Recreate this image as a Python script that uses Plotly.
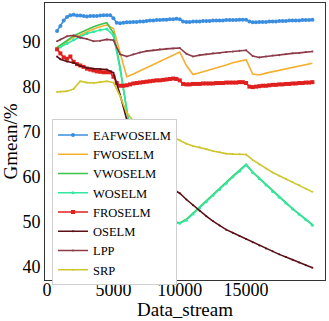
import plotly.graph_objects as go

# Data stream positions (sampling grid)
x_fine = list(range(750, 20001, 250))
x_coarse = [750] + list(range(1000, 20001, 500))

eafwoselm = [92.5,
    93.6, 94.8, 95.6, 96.0,
    96.1, 95.9, 95.9, 95.8,
    95.7, 95.8, 95.8, 95.8,
    95.9, 96.0, 96.0, 96.0,
    95.3, 94.3, 94.2, 94.3,
    94.4, 94.4, 94.5, 94.5,
    94.6, 94.6, 94.7, 94.8,
    94.8, 94.9, 94.9, 95.0,
    95.0, 95.1, 95.1, 95.2,
    95.1, 94.6, 94.5, 94.5,
    94.6, 94.6, 94.6, 94.7,
    94.7, 94.7, 94.8, 94.8,
    94.8, 94.8, 94.9, 94.9,
    94.9, 94.9, 95.0, 95.0,
    95.0, 94.6, 94.4, 94.4,
    94.5, 94.5, 94.5, 94.6,
    94.6, 94.6, 94.7, 94.7,
    94.7, 94.8, 94.8, 94.8,
    94.8, 94.9, 94.9, 94.9,
    95.0]

froselm = [88.4,
    87.5, 86.6, 86.3, 86.8,
    85.6, 85.1, 84.8, 84.5,
    84.1, 83.9, 83.7, 83.5,
    83.4, 83.3, 83.3, 83.3,
    82.3, 80.9, 80.3, 80.3,
    80.4, 80.6, 80.8, 80.9,
    81.0, 81.1, 81.2, 81.3,
    81.4, 81.5, 81.5, 81.6,
    81.7, 81.8, 81.9, 81.8,
    81.5, 80.7, 80.6, 80.6,
    80.7, 80.7, 80.7, 80.8,
    80.8, 80.8, 80.8, 80.9,
    80.9, 80.9, 81.0, 81.0,
    81.0, 81.0, 81.1, 81.1,
    80.9, 80.1, 80.0, 80.1,
    80.2, 80.3, 80.3, 80.4,
    80.5, 80.5, 80.6, 80.6,
    80.7, 80.7, 80.8, 80.8,
    80.9, 80.9, 81.0, 81.0,
    81.1]

fwoselm = [88.8,
    89.2, 90.2, 91.1, 91.6, 92.3, 92.9, 93.4, 93.8,
    93.0, 87.5, 82.3, 82.9, 83.6, 84.3, 85.0, 85.7, 86.3, 87.0,
    87.8, 84.8, 82.8, 83.2, 83.6, 84.0, 84.5, 84.9, 85.4, 85.8,
    86.1, 82.9, 82.7, 83.1, 83.4, 83.7, 84.0, 84.4, 84.7, 85.0,
    85.3]

vwoselm = [88.8,
    89.3, 90.4, 91.4, 92.1, 92.8, 93.4, 93.9, 94.3,
    92.0, 84.5, 75.0, 66.5, 59.0, 54.0, 51.5, 50.6, 50.3, 50.1,
    49.8, 50.6, 52.0, 53.3, 54.7, 56.1, 57.4, 58.8, 60.2, 61.5,
    62.8, 61.1, 59.7, 58.3, 56.9, 55.6, 54.3, 53.0, 51.8, 50.6,
    49.4]

woselm = [88.6,
    88.9, 89.7, 90.5, 91.2, 91.9, 92.3, 92.7, 92.9,
    91.5, 84.0, 74.5, 66.0, 58.5, 53.5, 51.2, 50.4, 50.2, 50.0,
    49.7, 50.4, 51.8, 53.1, 54.5, 55.9, 57.2, 58.6, 60.0, 61.3,
    62.7, 61.0, 59.6, 58.2, 56.8, 55.5, 54.2, 52.9, 51.7, 50.5,
    49.3]

oselm = [86.8,
    86.2, 85.7, 85.4, 84.7, 84.3, 84.1, 84.0, 83.9,
    83.2, 78.3, 72.8, 68.0, 64.5, 62.3, 60.6, 59.2, 58.1, 57.2,
    56.4, 55.0, 53.7, 52.5, 51.3, 50.2, 49.2, 48.3, 47.6, 46.9,
    46.2, 45.5, 44.8, 44.1, 43.5, 42.8, 42.2, 41.6, 41.0, 40.4,
    39.8]

lpp = [90.2,
    90.6, 91.3, 91.5, 91.0, 90.7, 90.2, 90.3, 90.6,
    90.4, 87.3, 86.8, 87.3, 87.7, 88.0, 88.2, 88.4, 88.5, 88.6,
    88.7, 87.4, 86.8, 87.1, 87.3, 87.5, 87.6, 87.8, 87.9, 88.1,
    88.2, 86.9, 86.6, 86.8, 87.0, 87.1, 87.3, 87.5, 87.6, 87.8,
    87.9]

srp = [78.9,
    79.0, 79.1, 79.6, 81.3, 81.0, 80.9, 81.1, 81.3,
    81.0, 78.0, 74.3, 72.5, 71.3, 70.5, 69.9, 69.5, 69.2, 68.9,
    68.2, 67.4, 66.9, 66.6, 66.2, 65.8, 65.5, 65.2, 65.1, 65.1,
    65.0, 63.8, 62.8, 61.9, 61.0, 60.3, 59.6, 58.9, 58.2, 57.4,
    56.7]

x_ticks = [0, 5000, 10000, 15000]
y_ticks = [40, 50, 60, 70, 80, 90]

FONT = "Times New Roman, Liberation Serif, serif"

series = [
    ("EAFWOSELM", x_fine, eafwoselm, "#3A8EE0", "circle", 4),
    ("FWOSELM", x_coarse, fwoselm, "#F5AE30", None, 0),
    ("VWOSELM", x_coarse, vwoselm, "#3CC44A", None, 0),
    ("WOSELM", x_coarse, woselm, "#30E8A0", "circle", 3),
    ("FROSELM", x_fine, froselm, "#E0201E", "square", 4),
    ("OSELM", x_coarse, oselm, "#5A1016", "circle", 2),
    ("LPP", x_coarse, lpp, "#8E3A48", "circle", 2),
    ("SRP", x_coarse, srp, "#CEC62E", "circle", 2),
]

fig = go.Figure()
for name, xs, ys, color, sym, msize in series:
    if sym:
        fig.add_trace(go.Scatter(x=xs, y=ys, name=name, mode="lines+markers",
                                 line=dict(color=color, width=1.6),
                                 marker=dict(symbol=sym, size=msize, color=color)))
    else:
        fig.add_trace(go.Scatter(x=xs, y=ys, name=name, mode="lines",
                                 line=dict(color=color, width=1.6)))

fig.update_layout(
    width=329, height=321,
    margin=dict(l=45, r=4, t=3, b=41),
    paper_bgcolor="white", plot_bgcolor="white",
    font=dict(family=FONT, size=18, color="black"),
    showlegend=True,
    legend=dict(x=0.025, y=0.58, xanchor="left", yanchor="top",
                bgcolor="white", bordercolor="#d0d0d0", borderwidth=1,
                font=dict(family=FONT, size=12.5, color="black"),
                tracegroupgap=0, itemwidth=30),
    annotations=[dict(text="Data_stream", xref="paper", yref="paper",
                      x=0.5, y=-0.106, xanchor="center", yanchor="middle",
                      showarrow=False, font=dict(family=FONT, size=19, color="black"))],
)
fig.update_xaxes(range=[-160, 20950], tickvals=x_ticks,
                 ticktext=[str(v) for v in x_ticks],
                 showgrid=False, zeroline=False, showline=True,
                 linecolor="#333333", linewidth=1, mirror=True,
                 ticks="", ticklabelstandoff=-7, automargin=False,
                 tickfont=dict(size=18))
fig.update_yaxes(range=[37.1, 98.7], tickvals=y_ticks,
                 ticktext=[str(v) for v in y_ticks],
                 showgrid=False, zeroline=False, showline=True,
                 linecolor="#333333", linewidth=1, mirror=True,
                 ticks="",
                 title=dict(text="Gmean/%", font=dict(size=19), standoff=0),
                 tickfont=dict(size=18))

fig.write_html("out.html", config={"displayModeBar": False},
               post_script="document.body.style.margin='0';")
